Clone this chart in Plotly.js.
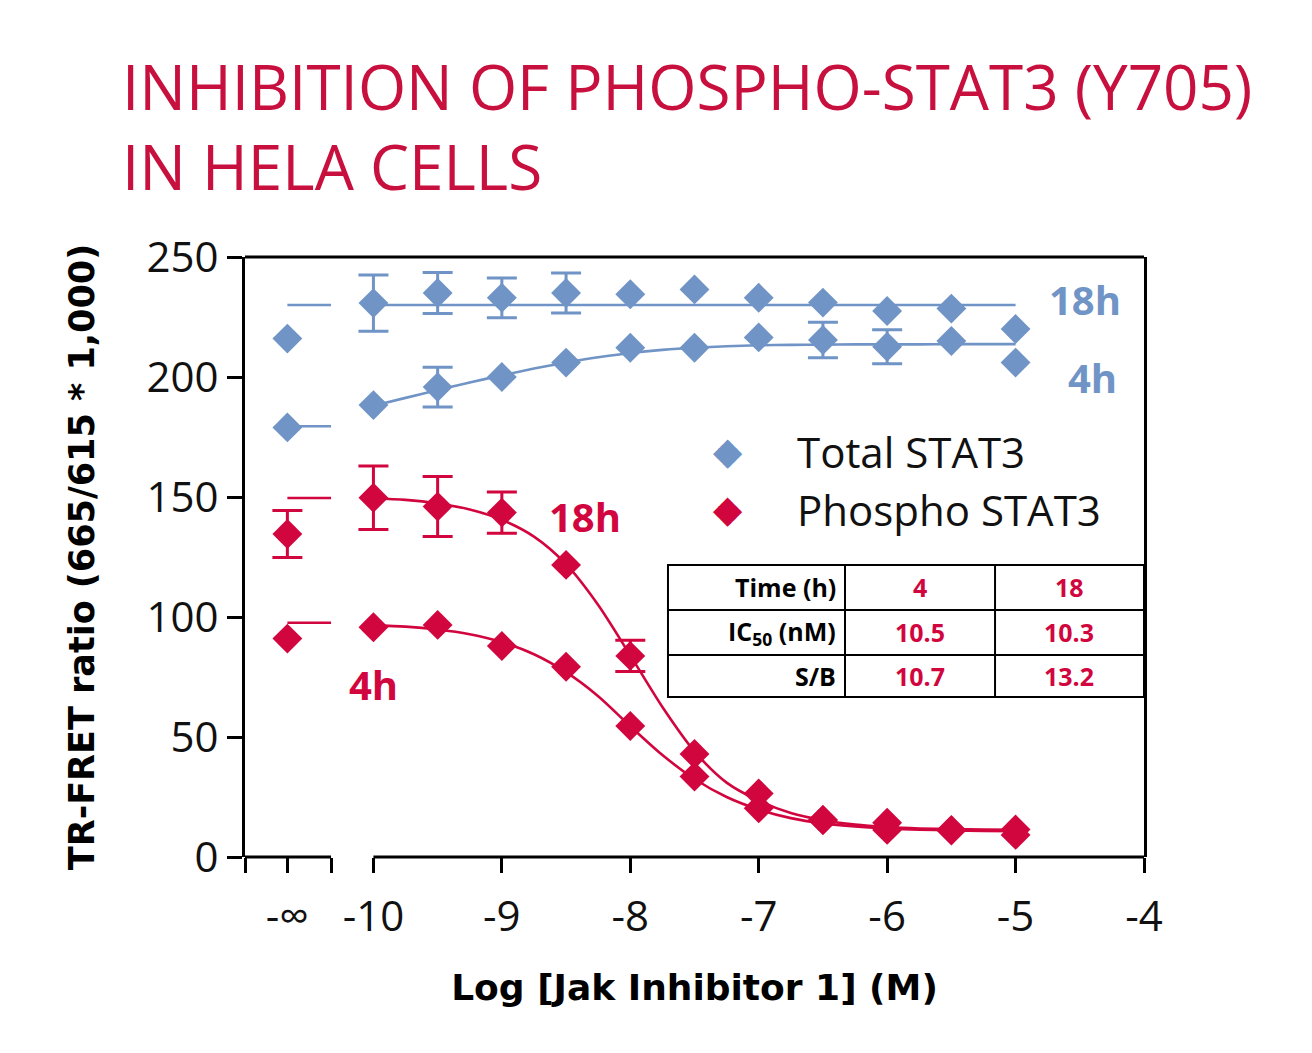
<!DOCTYPE html>
<html>
<head>
<meta charset="utf-8">
<script src="https://cdn.plot.ly/plotly-3.0.1.min.js"></script>
<style>
  html, body { margin: 0; padding: 0; background: #ffffff; }
  #chart { width: 1312px; height: 1053px; }
</style>
</head>
<body>
<div id="chart"></div>
<script>
// Concentration axis (log M); the untreated control sits at the "-∞" slot
const xInf = -10.67;
const xBreak = -10.33;
const logConc = [-10, -9.5, -9, -8.5, -8, -7.5, -7, -6.5, -6, -5.5, -5];

// Total STAT3 (TR-FRET ratio × 1000)
const total18hCtrl = 216;
const total18h = [230.8, 235, 233, 235, 234.5, 236.5, 233, 231, 227.5, 228.5, 220];
const total18hErr = [11.7, 8.5, 8.3, 8.3, NaN, NaN, NaN, NaN, NaN, NaN, NaN];
const total4hCtrl = 179;
const total4h = [188.3, 195.8, 200, 206, 212.2, 212.2, 216.5, 215.4, 212.6, 215, 206];
const total4hErr = [NaN, 8.3, NaN, NaN, NaN, NaN, NaN, 7.4, 7.1, NaN, NaN];

// Phospho STAT3 (Y705)
const phospho18hCtrl = 134.6;
const phospho18hCtrlErr = 9.8;
const phospho18h = [149.7, 146, 143.5, 121.7, 83.8, 42.9, 26.5, 15.4, 14.3, 11.3, 11.5];
const phospho18hErr = [13.2, 12.5, 8.6, NaN, 6.5, NaN, NaN, NaN, NaN, NaN, NaN];
const phospho4hCtrl = 91;
const phospho4h = [95.7, 96.7, 87.9, 79.3, 54.6, 33.5, 20.3, 15.4, 11.3, 11, 9.2];

// Fitted dose-response curves, sampled every 0.25 log unit
const fitX = [-10, -9.75, -9.5, -9.25, -9, -8.75, -8.5, -8.25, -8, -7.75, -7.5,
              -7.25, -7, -6.75, -6.5, -6.25, -6, -5.75, -5.5, -5.25, -5];
const fitTotal18h = [230, 230, 230, 230, 230, 230, 230, 230, 230, 230, 230,
                     230, 230, 230, 230, 230, 230, 230, 230, 230, 230];
const fitTotal4h = [188, 191.3, 194.6, 197.7, 200.7, 203.5, 206, 208.2, 210, 211.3, 212.2,
                    212.8, 213.2, 213.4, 213.5, 213.6, 213.6, 213.6, 213.7, 213.7, 213.7];
const fitPhospho18h = [149.5, 148.8, 147.3, 144.8, 140.5, 133.5, 122, 105, 84, 62.5, 44,
                       31, 23.5, 18.3, 15.3, 13.5, 12.5, 11.9, 11.6, 11.4, 11.3];
const fitPhospho4h = [96.5, 96, 94.8, 92.8, 89.5, 84.5, 77, 67, 54.5, 42.5, 32.5,
                      25, 19.8, 16.2, 14, 12.7, 11.9, 11.4, 11.1, 10.9, 10.8];
// Curve plateaus shown at the "-∞" slot
const plateauTotal18h = 230;
const plateauTotal4h = 179.5;
const plateauPhospho18h = 149.6;
const plateauPhospho4h = 97.6;

// Axis ticks
const xTickVals = [xInf, -10, -9, -8, -7, -6, -5, -4];
const xTickText = ['-∞', '-10', '-9', '-8', '-7', '-6', '-5', '-4'];
const xSegmentTicks = [-11, xBreak];
const yTickVals = [0, 50, 100, 150, 200, 250];

// Summary table
const tableRowLabels = ['Time (h)', 'IC<sub>50</sub> (nM)', 'S/B'];
const table4h = ['4', '10.5', '10.7'];
const table18h = ['18', '10.3', '13.2'];

const BLUE = '#7094C6';
const RED = '#D2063E';
const TITLE_RED = '#C8103E';
const FONT = 'Open Sans, Noto Sans, sans-serif';
const BOLD_FONT = 'DejaVu Sans, Open Sans, sans-serif';

function withCtrl(ctrl, arr) { return [ctrl].concat(arr); }
const xPts = withCtrl(xInf, logConc);

function curveTrace(plateau, fit, color) {
  return {
    x: [xInf, xBreak, null].concat(fitX),
    y: [plateau, plateau, null].concat(fit),
    mode: 'lines',
    line: { color: color, width: 2.6, shape: 'spline', smoothing: 0.8 },
    connectgaps: false,
    showlegend: false,
    hoverinfo: 'skip'
  };
}

function pointTrace(name, ys, errs, color) {
  return {
    name: name,
    x: xPts,
    y: ys,
    mode: 'markers',
    marker: { symbol: 'diamond', size: 23, color: color, line: { width: 0 } },
    error_y: { type: 'data', array: errs, visible: true, color: color, thickness: 3, width: 15 },
    showlegend: false
  };
}

const traces = [
  curveTrace(plateauTotal18h, fitTotal18h, BLUE),
  curveTrace(plateauTotal4h, fitTotal4h, BLUE),
  curveTrace(plateauPhospho18h, fitPhospho18h, RED),
  curveTrace(plateauPhospho4h, fitPhospho4h, RED),
  pointTrace('Total STAT3 18h', withCtrl(total18hCtrl, total18h), withCtrl(NaN, total18hErr), BLUE),
  pointTrace('Total STAT3 4h', withCtrl(total4hCtrl, total4h), withCtrl(NaN, total4hErr), BLUE),
  pointTrace('Phospho STAT3 18h', withCtrl(phospho18hCtrl, phospho18h), withCtrl(phospho18hCtrlErr, phospho18hErr), RED),
  pointTrace('Phospho STAT3 4h', withCtrl(phospho4hCtrl, phospho4h), withCtrl(NaN, logConc.map(() => NaN)), RED)
];

// Table geometry in plot-area fractions
const tblX = [0.4705, 0.6674, 0.8343, 1.0];
const tblY = [0.4867, 0.4117, 0.3367, 0.2667];

const shapes = [
  // top border of the frame
  { type: 'line', xref: 'paper', yref: 'paper', x0: 0, x1: 1, y0: 1, y1: 1,
    line: { color: '#000', width: 3 } },
  // broken x axis line
  { type: 'line', xref: 'x', yref: 'paper', x0: -11, x1: xBreak, y0: 0, y1: 0,
    line: { color: '#000', width: 3 } },
  { type: 'line', xref: 'x', yref: 'paper', x0: -10, x1: -4, y0: 0, y1: 0,
    line: { color: '#000', width: 3 } },
  // table frame
  { type: 'rect', xref: 'paper', yref: 'paper', x0: tblX[0], x1: tblX[3], y0: tblY[3], y1: tblY[0],
    fillcolor: '#fff', line: { color: '#000', width: 2 }, layer: 'above' }
];
for (let i = 1; i < 3; i++) {
  shapes.push({ type: 'line', xref: 'paper', yref: 'paper', x0: tblX[i], x1: tblX[i], y0: tblY[3], y1: tblY[0],
    line: { color: '#000', width: 2 }, layer: 'above' });
  shapes.push({ type: 'line', xref: 'paper', yref: 'paper', x0: tblX[0], x1: tblX[3], y0: tblY[i], y1: tblY[i],
    line: { color: '#000', width: 2 }, layer: 'above' });
}

const annotations = [];
// series labels
function seriesLabel(text, x, y, color) {
  annotations.push({ text: '<b>' + text + '</b>', x: x, y: y, xref: 'x', yref: 'y', showarrow: false,
    font: { family: FONT, size: 40, color: color }, xanchor: 'center', yanchor: 'middle' });
}
seriesLabel('18h', -4.46, 232.5, BLUE);
seriesLabel('4h', -4.40, 200, BLUE);
seriesLabel('18h', -8.35, 142, RED);
seriesLabel('4h', -10.0, 72, RED);

// legend
const legendItems = [
  { label: 'Total STAT3', color: BLUE, y: 0.676 },
  { label: 'Phospho STAT3', color: RED, y: 0.58 }
];
legendItems.forEach(item => {
  annotations.push({ text: '◆', xref: 'paper', yref: 'paper', x: 0.537, y: item.y, showarrow: false,
    font: { family: 'DejaVu Sans', size: 38, color: item.color }, xanchor: 'center', yanchor: 'middle' });
  annotations.push({ text: item.label, xref: 'paper', yref: 'paper', x: 0.612, y: item.y, showarrow: false,
    font: { family: FONT, size: 42, color: '#111' }, xanchor: 'left', yanchor: 'middle' });
});

// table text
const rowMid = [0.4492, 0.3742, 0.3017];
for (let r = 0; r < 3; r++) {
  annotations.push({ text: '<b>' + tableRowLabels[r] + '</b>', xref: 'paper', yref: 'paper',
    x: 0.6596, y: rowMid[r], showarrow: false, xanchor: 'right', yanchor: 'middle',
    font: { family: FONT, size: 25, color: '#000' } });
  annotations.push({ text: '<b>' + table4h[r] + '</b>', xref: 'paper', yref: 'paper',
    x: 0.7508, y: rowMid[r], showarrow: false, xanchor: 'center', yanchor: 'middle',
    font: { family: FONT, size: 25, color: RED } });
  annotations.push({ text: '<b>' + table18h[r] + '</b>', xref: 'paper', yref: 'paper',
    x: 0.9166, y: rowMid[r], showarrow: false, xanchor: 'center', yanchor: 'middle',
    font: { family: FONT, size: 25, color: RED } });
}

const layout = {
  width: 1312,
  height: 1053,
  paper_bgcolor: '#fff',
  plot_bgcolor: '#fff',
  margin: { l: 245, r: 168, t: 257, b: 196 },
  showlegend: false,
  title: {
    text: 'INHIBITION OF PHOSPHO-STAT3 (Y705)<br>IN HELA CELLS',
    font: { family: FONT, size: 62, color: TITLE_RED, weight: 400 },
    xref: 'container', yref: 'container', x: 0.093, xanchor: 'left', y: 0.896, yanchor: 'top'
  },
  xaxis: {
    range: [-11, -4],
    tickvals: xTickVals,
    ticktext: xTickText,
    ticks: 'outside', ticklen: 15, tickwidth: 3, tickcolor: '#000',
    minor: { tickmode: 'array', tickvals: xSegmentTicks, ticks: 'outside', ticklen: 15, tickwidth: 3,
             tickcolor: '#000', showgrid: false },
    ticklabelstandoff: 8,
    showline: false, showgrid: false, zeroline: false,
    tickfont: { family: FONT, size: 42, color: '#111' },
    title: { text: '<b>Log [Jak Inhibitor 1] (M)</b>', font: { family: BOLD_FONT, size: 36, color: '#000' }, standoff: 32 }
  },
  yaxis: {
    range: [0, 250],
    tickvals: yTickVals,
    ticks: 'outside', ticklen: 15, tickwidth: 3, tickcolor: '#000',
    showline: true, linewidth: 3, linecolor: '#000', mirror: true,
    showgrid: false, zeroline: false,
    tickfont: { family: FONT, size: 42, color: '#111' },
    title: { text: '<b>TR-FRET ratio (665/615 * 1,000)</b>', font: { family: BOLD_FONT, size: 35, color: '#000' }, standoff: 42 }
  },
  shapes: shapes,
  annotations: annotations
};

Plotly.newPlot('chart', traces, layout, { displayModeBar: false, staticPlot: true });
</script>
</body>
</html>
